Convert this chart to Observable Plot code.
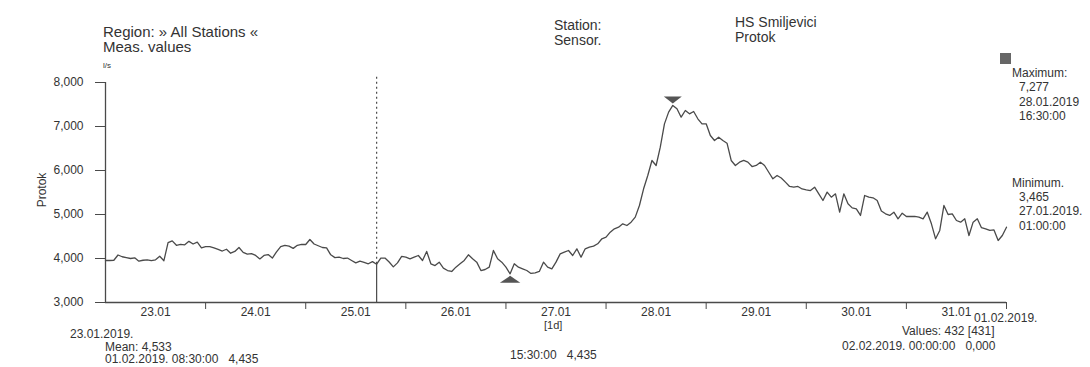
<!DOCTYPE html>
<html><head><meta charset="utf-8">
<script src="https://cdn.jsdelivr.net/npm/d3@7"></script>
<script src="https://cdn.jsdelivr.net/npm/@observablehq/plot@0.6"></script>
<style>
body{margin:0;background:#fff;font-family:"Liberation Sans",Arial,sans-serif;}
#wrap{position:relative;width:1090px;height:367px;overflow:hidden}
</style></head><body><div id="wrap"></div>
<script>
// Hourly flow values (l/s), one array per day, 00:00 .. 23:00
const flow2301 = [3955,3955,3960,4080,4040,4020,4000,4015,3940,3960,3970,3950,3970,4050,3950,4360,4400,4300,4320,4310,4390,4330,4370,4240];
const flow2401 = [4270,4270,4240,4205,4170,4210,4120,4160,4250,4140,4100,4110,4070,3990,4070,4090,4010,4150,4270,4300,4280,4230,4300,4320];
const flow2501 = [4318,4432,4330,4290,4250,4240,4084,4020,4030,4000,4010,3955,3900,3940,3910,3880,3930,3870,4010,4010,3920,3810,3900,4050];
const flow2601 = [4030,3993,4030,4068,3955,4160,3880,3840,3917,3780,3727,3705,3803,3880,3955,4085,3993,3917,3727,3750,3803,4182,3993,3917];
const flow2701 = [3803,3652,3880,3803,3765,3727,3660,3675,3705,3917,3803,3765,3917,4106,4144,4182,4068,4220,4030,4220,4257,4280,4334,4448];
const flow2801 = [4485,4598,4675,4712,4788,4750,4826,4940,5205,5584,5887,6228,6114,6530,7060,7326,7478,7402,7212,7364,7288,7340,7175,7060];
const flow2901 = [7061,6795,6682,6758,6682,6620,6228,6114,6190,6228,6190,6090,6114,6190,6114,5960,5811,5887,5830,5735,5637,5621,5637,5580];
const flow3001 = [5561,5545,5621,5470,5318,5508,5394,5470,5053,5470,5243,5150,5129,4978,5432,5394,5379,5318,5080,5016,4978,5053,4902,5030];
const flow3101 = [4955,4955,4955,4940,4902,5053,4788,4447,4637,5205,5000,5016,4864,4826,4902,4523,4826,4902,4700,4675,4637,4650,4409,4523];
const flow0102 = [4712];

const yTicks = [3000,4000,5000,6000,7000,8000];
const xTickLabels = ["23.01","24.01","25.01","26.01","27.01","28.01","29.01","30.01","31.01"];
const cursorTime = new Date(Date.UTC(2019,0,25,17));
const cursorValue = 3870;

const startTime = new Date(Date.UTC(2019,0,23));
const endTime = new Date(Date.UTC(2019,1,1));
const H = 3600e3, D = 24*H;

const allFlow = [].concat(flow2301,flow2401,flow2501,flow2601,flow2701,flow2801,flow2901,flow3001,flow3101,flow0102);
const data = allFlow.map((v,i)=>({t:new Date(+startTime + i*H), v}));
const maxPt = d3.greatest(data, d=>d.v);
const minPt = d3.least(data, d=>d.v);

const dayBounds = d3.range(1,10).map(i=>new Date(+startTime + i*D));
const dayMids = xTickLabels.map((_,i)=>new Date(+startTime + i*D + D/2));

const triDown = {draw(ctx, size){const r=Math.sqrt(size/Math.PI); ctx.moveTo(-1.5*r,-1.15*r); ctx.lineTo(1.5*r,-1.15*r); ctx.lineTo(0,0); ctx.closePath();}};
const triUp = {draw(ctx, size){const r=Math.sqrt(size/Math.PI); ctx.moveTo(0,0); ctx.lineTo(1.7*r,1.15*r); ctx.lineTo(-1.7*r,1.15*r); ctx.closePath();}};

const ink = "#4a4a4a";
const svg = Plot.plot({
  width:1090, height:367,
  marginLeft:105, marginRight:84, marginTop:82, marginBottom:65,
  x:{type:"utc", domain:[startTime,endTime]},
  y:{domain:[3000,8000]},
  style:{fontFamily:"Liberation Sans, Arial, sans-serif", fontSize:"12px", color:"#333", background:"#fff"},
  marks:[
    Plot.axisY({ticks:yTicks, tickSize:10, tickPadding:12, tickFormat:d3.format(","), label:null, stroke:ink}),
    Plot.axisX({ticks:dayBounds, tickSize:7, tickFormat:()=>"", label:null, stroke:ink}),
    Plot.axisX({ticks:dayMids, tickSize:0, tickPadding:5, tickFormat:(d,i)=>xTickLabels[i], label:null}),
    Plot.ruleY([3000],{stroke:ink, strokeWidth:1.3}),
    Plot.ruleX([startTime],{y1:3000, y2:8000, stroke:ink, strokeWidth:1.3}),
    Plot.ruleX([cursorTime],{y1:cursorValue, y2:8160, stroke:ink, strokeDasharray:"2,3", strokeWidth:1.2}),
    Plot.ruleX([cursorTime],{y1:3000, y2:cursorValue, stroke:ink, strokeWidth:1.2}),
    Plot.line(data,{x:"t", y:"v", stroke:ink, strokeWidth:1.3}),
    Plot.dot([maxPt],{x:"t", y:"v", r:6, symbol:triDown, fill:"#555", stroke:"none", dy:-2}),
    Plot.dot([minPt],{x:"t", y:"v", r:6, symbol:triUp, fill:"#555", stroke:"none", dy:2})
  ]
});
document.getElementById("wrap").appendChild(svg);

// Annotation texts
const notes = [
  [103,37,15,"Region: » All Stations «"],
  [103,52,15,"Meas. values"],
  [103,68,8,"l/s"],
  [554,30,14,"Station:"],
  [554,45,14,"Sensor."],
  [735,27,14,"HS Smiljevici"],
  [735,42,14,"Protok"],
  [1012,77,12,"Maximum:"],
  [1019,91,12,"7,277"],
  [1019,106,12,"28.01.2019"],
  [1019,120,12,"16:30:00"],
  [1012,187,12,"Minimum."],
  [1019,201,12,"3,465"],
  [1019,215,12,"27.01.2019."],
  [1019,230,12,"01:00:00"],
  [70,338,12,"23.01.2019."],
  [105,351,12,"Mean: 4,533"],
  [105,363,12,"01.02.2019. 08:30:00   4,435"],
  [510,359,12,"15:30:00   4,435"],
  [544,329,11,"[1d]"],
  [974,322,12,"01.02.2019."],
  [902,335,12,"Values: 432 [431]"],
  [842,350,12,"02.02.2019. 00:00:00   0,000"]
];
const s = d3.select(svg);
const g = s.append("g").attr("fill","#333").attr("text-anchor","start").attr("font-family","Liberation Sans, Arial, sans-serif");
notes.forEach(([x,y,fs,t])=>g.append("text").attr("x",x).attr("y",y).attr("font-size",fs).attr("text-anchor","start").attr("xml:space","preserve").style("white-space","pre").text(t));
g.append("text").attr("transform","translate(46,190) rotate(-90)").attr("text-anchor","middle").attr("font-size",12).text("Protok");
g.append("rect").attr("x",1000).attr("y",53).attr("width",11).attr("height",11).attr("fill","#666");
</script></body></html>
